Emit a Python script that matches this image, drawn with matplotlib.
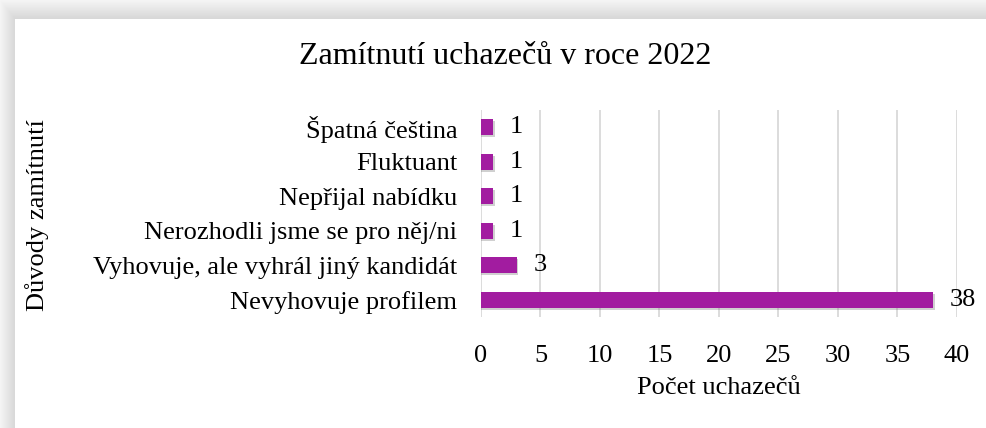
import numpy as np
import matplotlib
matplotlib.use("Agg")
import matplotlib.pyplot as plt

# data
reasons = ['Nevyhovuje profilem', 'Vyhovuje, ale vyhrál jiný kandidát',
           'Nerozhodli jsme se pro něj/ni', 'Nepřijal nabídku',
           'Fluktuant', 'Špatná čeština']
counts = [38, 3, 1, 1, 1, 1]
ticks = [0, 5, 10, 15, 20, 25, 30, 35, 40]

title = 'Zamítnutí uchazečů v roce 2022'
xlabel = 'Počet uchazečů'
ylabel = 'Důvody zamítnutí'

plt.rcParams['font.family'] = ['Liberation Serif', 'DejaVu Serif']

W, H = 987, 428
fig = plt.figure(figsize=(W / 100, H / 100), dpi=100)

# background with soft shadow on top and left edges
bg = fig.add_axes([0, 0, 1, 1], zorder=-10)
yy, xx = np.mgrid[0:H, 0:W]
dx = np.clip((15 - xx) / 15.0, 0, 1)
dy = np.clip((19 - yy) / 19.0, 0, 1)
d = np.maximum(dx, dy)
shade = np.where(d > 0, 0.84 + 0.12 * d, 1.0)
bg.imshow(shade, cmap='gray', vmin=0, vmax=1, aspect='auto', interpolation='bilinear')
bg.axis('off')

ax = fig.add_axes([481 / W, 1 - 317 / H, (957 - 481) / W, (317 - 110) / H])
ax.patch.set_alpha(0)

y = np.arange(len(reasons))
# drop shadow
ax.barh(y - 0.06, np.array(counts) + 0.15, height=0.46, color='#7a7a7a', alpha=0.35,
        zorder=2, linewidth=0)
ax.barh(y, counts, height=0.46, color='#A21CA0', zorder=3, linewidth=0)

for yi, c in zip(y, counts):
    ax.annotate(str(c), (c, yi), xytext=(12, 0), textcoords='offset points',
                va='center', ha='left', fontsize=19, color='#000000')

ax.set_xlim(0, 40)
ax.set_ylim(-0.5, len(reasons) - 0.5)
ax.set_xticks(ticks)
ax.set_yticks(y)
ax.set_yticklabels(reasons)
ax.tick_params(axis='both', length=0, labelsize=19, colors='#000000')
ax.tick_params(axis='y', pad=17)
ax.tick_params(axis='x', pad=20)
ax.grid(axis='x', color='#D9D9D9', linewidth=1.3, zorder=0)
for s in ax.spines.values():
    s.set_visible(False)

ax.set_xlabel(xlabel, fontsize=19, labelpad=7)
fig.text(37 / W, 1 - 215 / H, ylabel, rotation=90, ha='center', va='center', fontsize=19)
fig.text(505 / W, 1 - 57 / H, title, ha='center', va='center', fontsize=23)

fig.savefig('out.png', dpi=100)
